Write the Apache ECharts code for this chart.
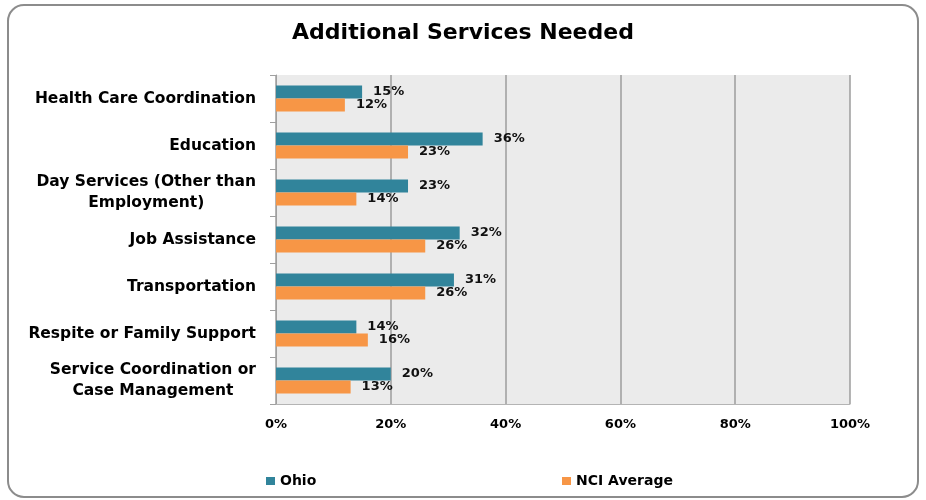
<!DOCTYPE html>
<html>
<head>
<meta charset="utf-8">
<script src="https://cdn.jsdelivr.net/npm/echarts@6/dist/echarts.min.js"></script>
<style>html,body{margin:0;padding:0;background:#fff}#c{width:926px;height:500px}</style>
</head>
<body>
<div id="c"></div>
<script>
const categories = [
  'Health Care Coordination',
  'Education',
  'Day Services (Other than\nEmployment)',
  'Job Assistance',
  'Transportation',
  'Respite or Family Support',
  'Service Coordination or\nCase Management'
];
const ohio = [15, 36, 23, 32, 31, 14, 20];
const nci = [12, 23, 14, 26, 26, 16, 13];
const xTicks = [0, 20, 40, 60, 80, 100];
const seriesNames = ['Ohio', 'NCI Average'];

const FONT = '"DejaVu Sans", sans-serif';
const chart = echarts.init(document.getElementById('c'), null, {renderer: 'canvas'});
chart.setOption({
  animation: false,
  backgroundColor: '#fff',
  title: {
    text: 'Additional Services Needed',
    left: 'center',
    top: 17,
    textStyle: {fontFamily: FONT, fontWeight: 'bold', fontSize: 22, color: '#000'}
  },
  graphic: [{
    type: 'rect',
    shape: {x: 8, y: 5, width: 910, height: 492, r: 16},
    style: {fill: 'none', stroke: '#8c8c8c', lineWidth: 2},
    silent: true
  }],
  legend: [
    {
      data: [seriesNames[0]],
      left: 266, top: 474, padding: 0,
      icon: 'rect', itemWidth: 9, itemHeight: 8, itemGap: 6,
      textStyle: {fontFamily: FONT, fontWeight: 'bold', fontSize: 14, color: '#000'}
    },
    {
      data: [seriesNames[1]],
      left: 562, top: 474, padding: 0,
      icon: 'rect', itemWidth: 9, itemHeight: 8,
      textStyle: {fontFamily: FONT, fontWeight: 'bold', fontSize: 14, color: '#000'}
    }
  ],
  grid: {
    left: 276, right: 76, top: 75, bottom: 96,
    show: true, backgroundColor: '#ebebeb', borderWidth: 0
  },
  xAxis: {
    type: 'value',
    min: xTicks[0], max: xTicks[xTicks.length - 1], interval: 20,
    axisLabel: {
      formatter: v => v + '%',
      fontFamily: FONT, fontWeight: 'bold', fontSize: 13, color: '#000', margin: 14
    },
    axisLine: {show: true, lineStyle: {color: '#b4b4b4', width: 1}},
    axisTick: {show: false},
    splitLine: {show: true, lineStyle: {color: '#9c9c9c', width: 1.5}}
  },
  yAxis: {
    type: 'category',
    data: categories,
    inverse: true,
    axisLine: {show: true, lineStyle: {color: '#a0a0a0', width: 1}},
    axisTick: {show: true, length: 6, lineStyle: {color: '#a0a0a0'}},
    axisLabel: {
      margin: 20,
      align: 'right',
      formatter: v => v.split('\n').map(s => '{c|' + s + '}').join('\n'),
      rich: {
        c: {align: 'center', fontFamily: FONT, fontWeight: 'bold', fontSize: 15.5, color: '#000', lineHeight: 21}
      }
    }
  },
  series: [
    {
      name: seriesNames[0], type: 'bar', data: ohio,
      barWidth: 13, barGap: '0%',
      itemStyle: {color: '#31849b'},
      label: {show: true, position: 'right', distance: 11, formatter: p => p.value + '%',
        fontFamily: FONT, fontWeight: 'bold', fontSize: 13, color: '#111'}
    },
    {
      name: seriesNames[1], type: 'bar', data: nci,
      barWidth: 13, barGap: '0%',
      itemStyle: {color: '#f79646'},
      label: {show: true, position: 'right', distance: 11, formatter: p => p.value + '%',
        fontFamily: FONT, fontWeight: 'bold', fontSize: 13, color: '#111'}
    }
  ]
});
</script>
</body>
</html>
